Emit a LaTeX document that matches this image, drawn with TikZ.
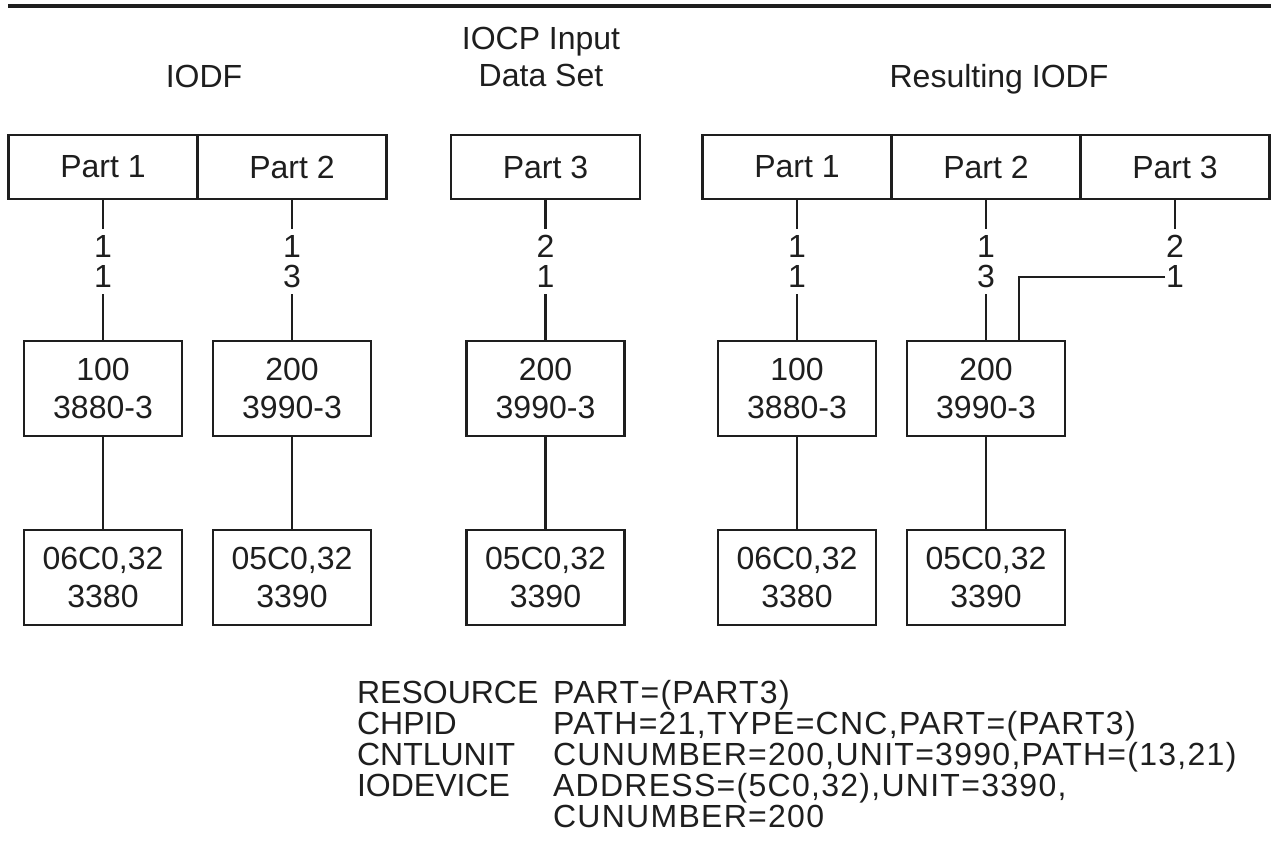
\documentclass[tikz,border=0pt]{standalone}
\usepackage{fontspec}
\setmainfont{Liberation Sans}
\usetikzlibrary{positioning}
\definecolor{ink}{HTML}{1E1E1E}
\tikzset{part/.style={draw,minimum width=141.75pt,minimum height=48pt,inner sep=0pt}}
\tikzset{unit/.style={draw,minimum width=118.5pt,minimum height=71.25pt,inner sep=0pt,align=center}}
\tikzset{chp/.style={inner sep=0pt,minimum height=47.25pt,align=center,font=\fontsize{24}{22.5}\selectfont}}
\tikzset{title/.style={anchor=base,align=center,inner sep=0pt,font=\fontsize{24}{27.75}\selectfont}}
\newcommand\stmtfont{\fontsize{24}{23.25}\selectfont\addfontfeature{LetterSpace=4}}
\newcommand\kwfont{\fontsize{24}{23.25}\selectfont}

\begin{document}
\begin{tikzpicture}[x=0.75pt,y=-0.75pt,on grid,node distance=141.75pt,font=\fontsize{24}{28.5}\selectfont,line width=1.6pt,color=ink]
        \useasboundingbox (0,0) rectangle (1271,863);
        \draw[line width=2.3pt] (8,6) -- (1271,6);
        % titles
        \node[title](iodf) at (204,88){IODF};
        \node[title](iocp) at (541,87){IOCP Input\\Data Set};
        \node[title](res) at (999,88){Resulting IODF};
        % partitions
        \node[part](p1) at (103,167){Part 1};
        \node[part](p2)[right=of p1]{Part 2};
        \node[part](q3) at (545.5,167){Part 3};
        \node[part](r1) at (797,167){Part 1};
        \node[part](r2)[right=of r1]{Part 2};
        \node[part](r3)[right=of r2]{Part 3};
        % chpids
        \begin{scope}[node distance=70.9pt]
          \node[chp](h1)[below=of p1]{1\\1};
          \node[chp](h2)[below=of p2]{1\\3};
          \node[chp](h3)[below=of q3]{2\\1};
          \node[chp](h4)[below=of r1]{1\\1};
          \node[chp](h5)[below=of r2]{1\\3};
          \node[chp](h6)[below=of r3]{2\\1};
        \end{scope}
        % control units
        \begin{scope}[node distance=95.25pt]
          \node[unit](c1)[below=of h1]{100\\3880-3};
          \node[unit](c2)[below=of h2]{200\\3990-3};
          \node[unit](c3)[below=of h3]{200\\3990-3};
          \node[unit](c4)[below=of h4]{100\\3880-3};
          \node[unit](c5)[below=of h5]{200\\3990-3};
        \end{scope}
        % devices
        \node[unit](d1)[below=of c1]{06C0,32\\3380};
        \node[unit](d2)[below=of c2]{05C0,32\\3390};
        \node[unit](d3)[below=of c3]{05C0,32\\3390};
        \node[unit](d4)[below=of c4]{06C0,32\\3380};
        \node[unit](d5)[below=of c5]{05C0,32\\3390};
        \draw
        (p1) edge (h1) (h1) edge (c1) (c1) edge (d1)
        (p2) edge (h2) (h2) edge (c2) (c2) edge (d2)
        (q3) edge (h3) (h3) edge (c3) (c3) edge (d3)
        (r1) edge (h4) (h4) edge (c4) (c4) edge (d4)
        (r2) edge (h5) (h5) edge (c5) (c5) edge (d5)
        (r3) edge (h6);
        \draw ([yshift=-11.6pt]h6.west) -| ([xshift=24.75pt]c5.north);
        % statements
        \node[anchor=base west,align=left,inner sep=0pt,font=\kwfont](kw) at (356,796)
        {RESOURCE\\CHPID\\CNTLUNIT\\IODEVICE};
        \node[anchor=base west,align=left,inner sep=0pt,font=\stmtfont](ops) at (552,827)
        {PART=(PART3)\\PATH=21,TYPE=CNC,PART=(PART3)\\CUNUMBER=200,UNIT=3990,PATH=(13,21)\\ADDRESS=(5C0,32),UNIT=3390,\\CUNUMBER=200};
      \end{tikzpicture}
\end{document}
